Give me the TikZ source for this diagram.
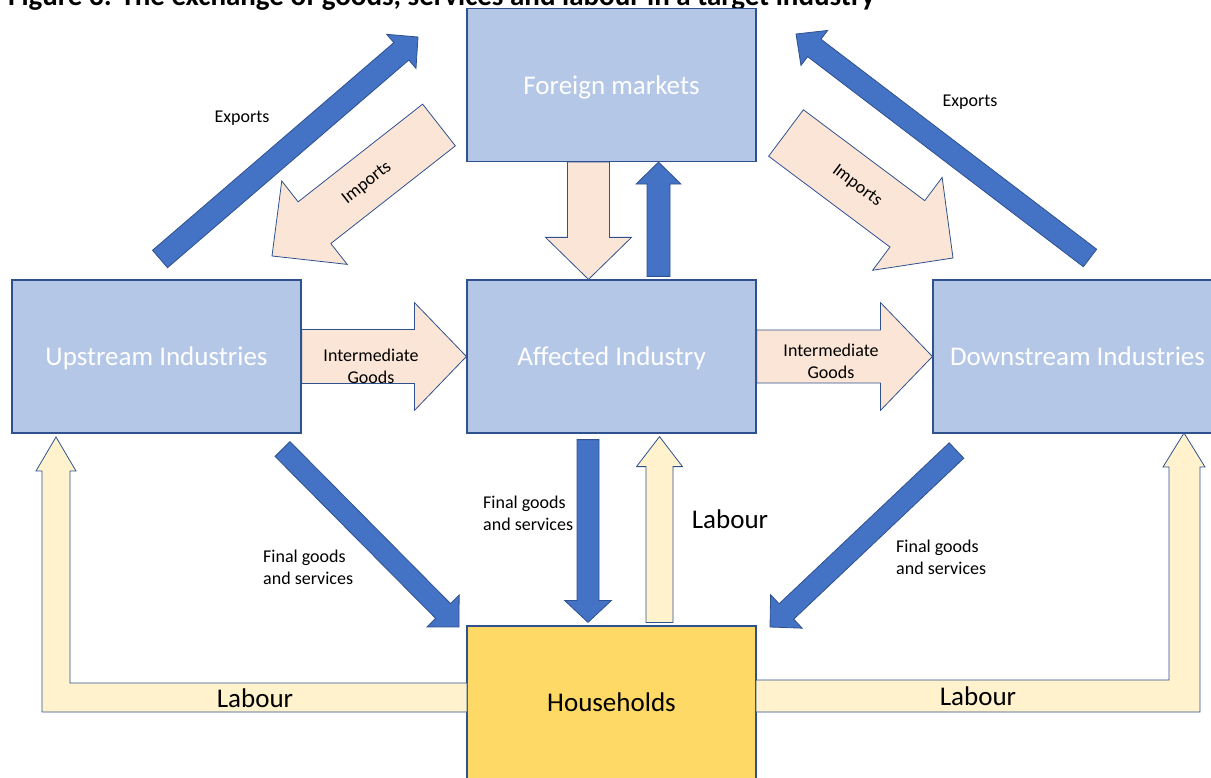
\documentclass[tikz,border=0pt]{standalone}
\usepackage{fontspec}
\setmainfont{Carlito}
\usetikzlibrary{calc}

\definecolor{boxblue}{HTML}{B4C7E7}
\definecolor{edgeblue}{HTML}{2F528F}
\definecolor{flowblue}{HTML}{4472C4}
\definecolor{peach}{HTML}{FBE5D6}
\definecolor{cream}{HTML}{FFF2CC}
\definecolor{gold}{HTML}{FFD966}

\tikzset{
  sector/.style={draw=edgeblue, line width=1.2pt, fill=boxblue, text=white,
    minimum width=289pt, minimum height=153pt, inner sep=0pt, text depth=0pt,
    font=\fontsize{27}{32}\selectfont},
  goodsflow/.style={draw=edgeblue, line width=0.8pt, fill=flowblue},
  importflow/.style={draw=edgeblue, line width=0.8pt, fill=peach},
  labourflow/.style={draw=edgeblue, line width=0.8pt, fill=cream},
  flowtext/.style={inner sep=0pt, font=\fontsize{18}{22}\selectfont},
  labourtext/.style={inner sep=0pt, font=\fontsize{27}{32}\selectfont}
}

% fat arrow: style, tail, tip, half shaft, half head, head length
\newcommand{\blockarrow}[6]{%
  \path (#2) coordinate (ba-t) (#3) coordinate (ba-h);
  \path ($(ba-h)!#6!(ba-t)$) coordinate (ba-c);
  \draw[#1] ($(ba-t)!#4!90:(ba-h)$) -- ($(ba-c)!#4!90:(ba-h)$)
    -- ($(ba-c)!#5!90:(ba-h)$) -- (ba-h) -- ($(ba-c)!#5!-90:(ba-h)$)
    -- ($(ba-c)!#4!-90:(ba-h)$) -- ($(ba-t)!#4!-90:(ba-h)$) -- cycle;}

\begin{document}
\begin{tikzpicture}[x=1pt,y=-1pt,line join=miter]

	\useasboundingbox (0,0) rectangle (1211,778);
	\clip (0,0) rectangle (1211,778);

	% title (cut off at the top)
	\node[anchor=base west, inner sep=0pt, font=\bfseries\fontsize{29}{34}\selectfont] (title)
	      at (8,6) {Figure 3: The exchange of goods, services and labour in a target industry};

	% the five boxes
	\node[sector] (foreign) at (611.5,85) {Foreign markets};
	\node[sector] (upstream) at (156.5,356.5) {Upstream Industries};
	\node[sector] (affected) at (611.5,356.5) {Affected Industry};
	\node[sector] (downstream) at (1077.5,356.5) {Downstream Industries};
	\node[sector, fill=gold, text=black] (house) at (611.5,702.5) {Households};

	% exports and imports
	\blockarrow{goodsflow}{160,259}{418,37}{11.5pt}{22.5pt}{22pt}
	\blockarrow{goodsflow}{1090,258}{796,34}{11pt}{22pt}{23pt}
	\blockarrow{importflow}{439,125}{272,256}{26.5pt}{53pt}{54pt}
	\blockarrow{importflow}{786,133}{953,258}{29pt}{58pt}{57pt}
	\blockarrow{importflow}{$(foreign.south)+(-23,0)$}{$(affected.north)+(-23,0)$}{21pt}{43pt}{42pt}
	\blockarrow{goodsflow}{$(affected.north)+(47,-3)$}{$(foreign.south)+(47,0)$}{11.5pt}{22.5pt}{22pt}

	% intermediate goods
	\blockarrow{importflow}{upstream.east}{affected.west}{27pt}{54pt}{52pt}
	\blockarrow{importflow}{affected.east}{downstream.west}{26.5pt}{54pt}{52pt}

	% final goods to households
	\blockarrow{goodsflow}{282.5,449}{459,627}{10.5pt}{22.6pt}{22.6pt}
	\blockarrow{goodsflow}{$(affected.south)+(-23.5,6)$}{$(house.north)+(-23.5,-3)$}{11pt}{23.5pt}{22pt}
	\blockarrow{goodsflow}{956.5,450.5}{770,627}{10.6pt}{23pt}{22.6pt}

	% labour back to the industries
	\blockarrow{labourflow}{$(house.north)+(48,-3)$}{$(affected.south)+(48,3)$}{13.5pt}{23pt}{30pt}
	\draw[labourflow] (467,683) -- (70,683) -- (70,471) -- (76,471) -- (56,437)
	      -- (36,471) -- (42,471) -- (42,712) -- (467,712) -- cycle;
	\draw[labourflow] (756,680) -- (1169,680) -- (1169,467) -- (1163,467) -- (1184,433)
	      -- (1205,467) -- (1200,467) -- (1200,712) -- (756,712) -- cycle;

	% labels
	\node[flowtext] (exportsL) at (242,118) {Exports};
	\node[flowtext] (exportsR) at (970,102) {Exports};
	\node[flowtext, rotate=38] (importsL) at (367,183) {Imports};
	\node[flowtext, rotate=-37] (importsR) at (857,186) {Imports};
	\node[flowtext, align=center] (interL) at (371,366) {Intermediate\\Goods};
	\node[flowtext, align=center] (interR) at (831,361) {Intermediate\\Goods};
	\node[flowtext, align=left, anchor=west] (finalL) at (263,567) {Final goods\\and services};
	\node[flowtext, align=left, anchor=west] (finalM) at (483,513) {Final goods\\and services};
	\node[flowtext, align=left, anchor=west] (finalR) at (896,557) {Final goods\\and services};
	\node[labourtext] (labourM) at (730,519) {Labour};
	\node[labourtext] (labourL) at (255,698) {Labour};
	\node[labourtext] (labourR) at (978,696) {Labour};

\end{tikzpicture}
\end{document}
